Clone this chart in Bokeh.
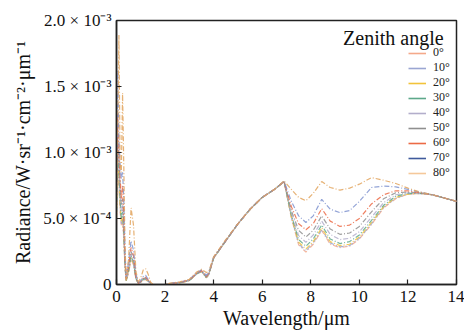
from bokeh.plotting import figure
from bokeh.models import Legend, LegendItem, Label, FixedTicker, Range1d
from bokeh.embed import file_html
from bokeh.resources import INLINE

# wavelength (um)
wavelength = [0.0, 0.05, 0.1, 0.15, 0.2, 0.25, 0.3, 0.35, 0.4, 0.5, 0.6, 0.7, 0.8, 0.9, 1.0,
              1.1, 1.2, 1.3, 1.4, 1.5, 2.0, 2.2, 2.6, 3.0, 3.3, 3.5, 3.7, 3.8, 4.0, 4.5,
              5.0, 5.5, 6.0, 6.5, 6.9, 7.2, 7.5, 7.8, 8.1, 8.45, 8.8, 9.2, 9.6, 10.0, 10.5,
              11.0, 11.5, 12.0, 12.5, 13.0, 13.5, 14.0]

# radiance in units of 1e-4 W sr^-1 cm^-2 um^-1
rad_0 = [4.5, 8.8, 7.5, 5.5, 4.5, 4.8, 3.5, 1.2, 0.3, 0.9, 1.9, 1.5, 0.4, 0.1, 0.15,
         0.35, 0.38, 0.22, 0.08, 0.0, 0.0, 0.05, 0.12, 0.3, 0.8, 1.0, 0.5, 0.75, 2.0, 3.3,
         4.6, 5.7, 6.6, 7.2, 7.8, 5.05, 3.0, 2.45, 3.05, 4.1, 3.05, 2.8, 2.9, 3.45, 4.55,
         5.8, 6.5, 6.85, 6.9, 6.8, 6.55, 6.3]
rad_10 = [4.8, 9.0, 7.8, 5.8, 4.6, 5.0, 3.6, 1.3, 0.3, 1.0, 2.0, 1.55, 0.4, 0.1, 0.18,
          0.36, 0.38, 0.25, 0.1, 0.0, 0.0, 0.05, 0.12, 0.3, 0.8, 1.0, 0.5, 0.75, 2.0, 3.3,
          4.6, 5.7, 6.6, 7.2, 7.8, 5.1, 3.1, 2.55, 3.15, 4.15, 3.15, 2.85, 2.95, 3.5, 4.6,
          5.85, 6.55, 6.85, 6.9, 6.8, 6.55, 6.3]
rad_20 = [5.0, 9.5, 8.0, 6.0, 4.8, 5.2, 3.8, 1.4, 0.3, 1.0, 2.1, 1.6, 0.4, 0.1, 0.18,
          0.38, 0.4, 0.25, 0.1, 0.0, 0.0, 0.05, 0.12, 0.3, 0.8, 1.0, 0.52, 0.76, 2.0, 3.3,
          4.6, 5.7, 6.6, 7.2, 7.8, 5.15, 3.2, 2.7, 3.25, 4.3, 3.25, 2.95, 3.05, 3.6, 4.7,
          5.9, 6.6, 6.85, 6.9, 6.8, 6.55, 6.3]
rad_30 = [5.5, 10.0, 8.5, 6.5, 5.0, 5.5, 4.0, 1.5, 0.3, 1.1, 2.2, 1.7, 0.45, 0.1, 0.2,
          0.4, 0.42, 0.28, 0.1, 0.0, 0.0, 0.05, 0.12, 0.3, 0.8, 1.0, 0.53, 0.77, 2.0, 3.3,
          4.6, 5.7, 6.6, 7.2, 7.8, 5.25, 3.4, 2.9, 3.45, 4.5, 3.45, 3.1, 3.25, 3.75, 4.85,
          6.0, 6.7, 6.9, 6.9, 6.8, 6.55, 6.3]
rad_40 = [6.0, 10.5, 9.0, 7.0, 5.5, 6.0, 4.2, 1.6, 0.35, 1.2, 2.3, 1.8, 0.5, 0.1, 0.2,
          0.4, 0.45, 0.3, 0.1, 0.0, 0.0, 0.05, 0.13, 0.32, 0.82, 1.02, 0.55, 0.78, 2.02, 3.3,
          4.6, 5.7, 6.6, 7.2, 7.8, 5.4, 3.7, 3.2, 3.75, 4.8, 3.8, 3.4, 3.5, 4.0, 5.1,
          6.2, 6.8, 6.95, 6.9, 6.8, 6.55, 6.3]
rad_50 = [6.5, 11.0, 9.5, 7.5, 6.0, 6.5, 4.5, 1.8, 0.4, 1.3, 2.5, 2.0, 0.5, 0.1, 0.2,
          0.45, 0.5, 0.3, 0.1, 0.0, 0.0, 0.06, 0.14, 0.33, 0.84, 1.04, 0.58, 0.8, 2.03, 3.32,
          4.6, 5.7, 6.6, 7.2, 7.8, 5.6, 4.1, 3.6, 4.1, 5.2, 4.2, 3.8, 3.9, 4.4, 5.5,
          6.5, 6.95, 7.0, 6.95, 6.8, 6.55, 6.3]
rad_60 = [7.0, 13.0, 10.0, 8.0, 6.5, 7.5, 5.0, 2.0, 0.4, 1.5, 2.8, 2.2, 0.6, 0.1, 0.25,
          0.5, 0.55, 0.35, 0.1, 0.0, 0.0, 0.07, 0.15, 0.35, 0.86, 1.06, 0.62, 0.84, 2.05, 3.33,
          4.6, 5.7, 6.6, 7.2, 7.8, 5.9, 4.6, 4.15, 4.6, 5.75, 4.8, 4.4, 4.5, 5.0, 6.1,
          6.8, 7.1, 7.1, 6.95, 6.8, 6.55, 6.3]
rad_70 = [8.0, 16.2, 11.0, 9.0, 8.0, 8.5, 6.5, 2.5, 0.5, 1.8, 3.3, 2.6, 0.8, 0.1, 0.3,
          0.6, 0.7, 0.4, 0.1, 0.0, 0.0, 0.08, 0.17, 0.37, 0.9, 1.1, 0.7, 0.9, 2.07, 3.35,
          4.6, 5.7, 6.6, 7.2, 7.82, 6.3, 5.2, 4.7, 5.2, 6.45, 5.7, 5.45, 5.6, 6.3, 7.35,
          7.45, 7.4, 7.2, 7.0, 6.8, 6.55, 6.3]
rad_80 = [6.0, 12.0, 18.9, 9.0, 8.5, 14.5, 9.0, 3.0, 0.3, 2.0, 5.8, 4.5, 1.0, 0.2, 0.5,
          1.1, 1.2, 0.8, 0.2, 0.0, 0.0, 0.1, 0.2, 0.4, 0.95, 1.15, 0.9, 1.0, 2.1, 3.4,
          4.6, 5.7, 6.6, 7.2, 7.85, 7.2, 6.6, 6.35, 6.9, 7.8, 7.35, 7.15, 7.3, 7.6, 8.1,
          7.9, 7.65, 7.3, 7.0, 6.8, 6.55, 6.3]

angle_labels = ["0°", "10°", "20°", "30°", "40°", "50°", "60°", "70°", "80°"]
series = [rad_0, rad_10, rad_20, rad_30, rad_40, rad_50, rad_60, rad_70, rad_80]
colors = ["#f4a98a", "#9aa6d2", "#f2c33a", "#5da88a", "#b3aecb", "#8f8f8f",
          "#ec6a45", "#3f5a9c", "#f5c89a"]
line_colors = ["#f4a98a", "#9aa6d2", "#f2c33a", "#5da88a", "#b3aecb", "#8f8f8f",
               "#ec6a45", "#7f93cf", "#e2a35c"]

y_ticks = [0, 5, 10, 15, 20]
y_tick_labels = ["0", "5.0 × 10⁻⁴", "1.0 × 10⁻³", "1.5 × 10⁻³", "2.0 × 10⁻³"]
x_ticks = [0, 2, 4, 6, 8, 10, 12, 14]

FONT = "Liberation Serif"

p = figure(width=464, height=335, output_backend="svg", toolbar_location=None,
           x_range=Range1d(0, 14), y_range=Range1d(0, 20),
           min_border_left=116, min_border_right=8, min_border_top=20, min_border_bottom=51)
p.xgrid.visible = False
p.ygrid.visible = False
p.outline_line_color = "#222222"
p.outline_line_width = 1.5
p.background_fill_color = "white"
p.border_fill_color = "white"

for ys, c in zip(series, line_colors):
    p.line(wavelength, ys, line_color=c, line_width=1.2, line_alpha=0.85,
           line_dash="5 2 1 2")

# legend proxies (solid lines, no visible data)
nan = float("nan")
items = []
for lab, c in zip(angle_labels, colors):
    rr = p.line([nan], [nan], line_color=c, line_width=1.6)
    items.append(LegendItem(label=lab, renderers=[rr]))

legend = Legend(items=items, location=(290, 102), glyph_width=18, glyph_height=12,
                label_height=12, spacing=0, padding=2, label_standoff=7,
                label_text_font=FONT, label_text_font_size="12px",
                label_text_line_height=1.0,
                label_text_color="#222222",
                background_fill_alpha=0, border_line_alpha=0, margin=0)
p.add_layout(legend, "center")

title = Label(x=13.47, y=18.71, text="Zenith angle", text_align="right",
              text_baseline="alphabetic", text_font=FONT, text_font_size="20px",
              text_color="#111111")
p.add_layout(title)

for ax in (p.xaxis[0], p.yaxis[0]):
    ax.major_label_text_font = FONT
    ax.major_label_text_font_size = "17px"
    ax.major_label_text_color = "#111111"
    ax.axis_label_text_font = FONT
    ax.axis_label_text_font_size = "20px"
    ax.axis_label_text_font_style = "normal"
    ax.axis_label_text_color = "#111111"
    ax.major_tick_in = 5
    ax.major_tick_out = 0
    ax.minor_tick_line_color = None
    ax.axis_line_color = "#222222"
    ax.axis_line_width = 1.5
    ax.major_tick_line_color = "#222222"
    ax.major_tick_line_width = 1.2

p.xaxis[0].ticker = FixedTicker(ticks=x_ticks)
p.yaxis[0].ticker = FixedTicker(ticks=y_ticks)
p.yaxis[0].major_label_overrides = {t: l for t, l in zip(y_ticks, y_tick_labels)}
p.xaxis[0].axis_label = "Wavelength/μm"
p.yaxis[0].axis_label = "Radiance/W·sr⁻¹·cm⁻²·μm⁻¹"
p.xaxis[0].major_label_standoff = 6
p.xaxis[0].axis_label_standoff = 2
p.yaxis[0].major_label_standoff = 5
p.yaxis[0].axis_label_standoff = 6

open("out.html", "w").write(file_html(p, INLINE))
